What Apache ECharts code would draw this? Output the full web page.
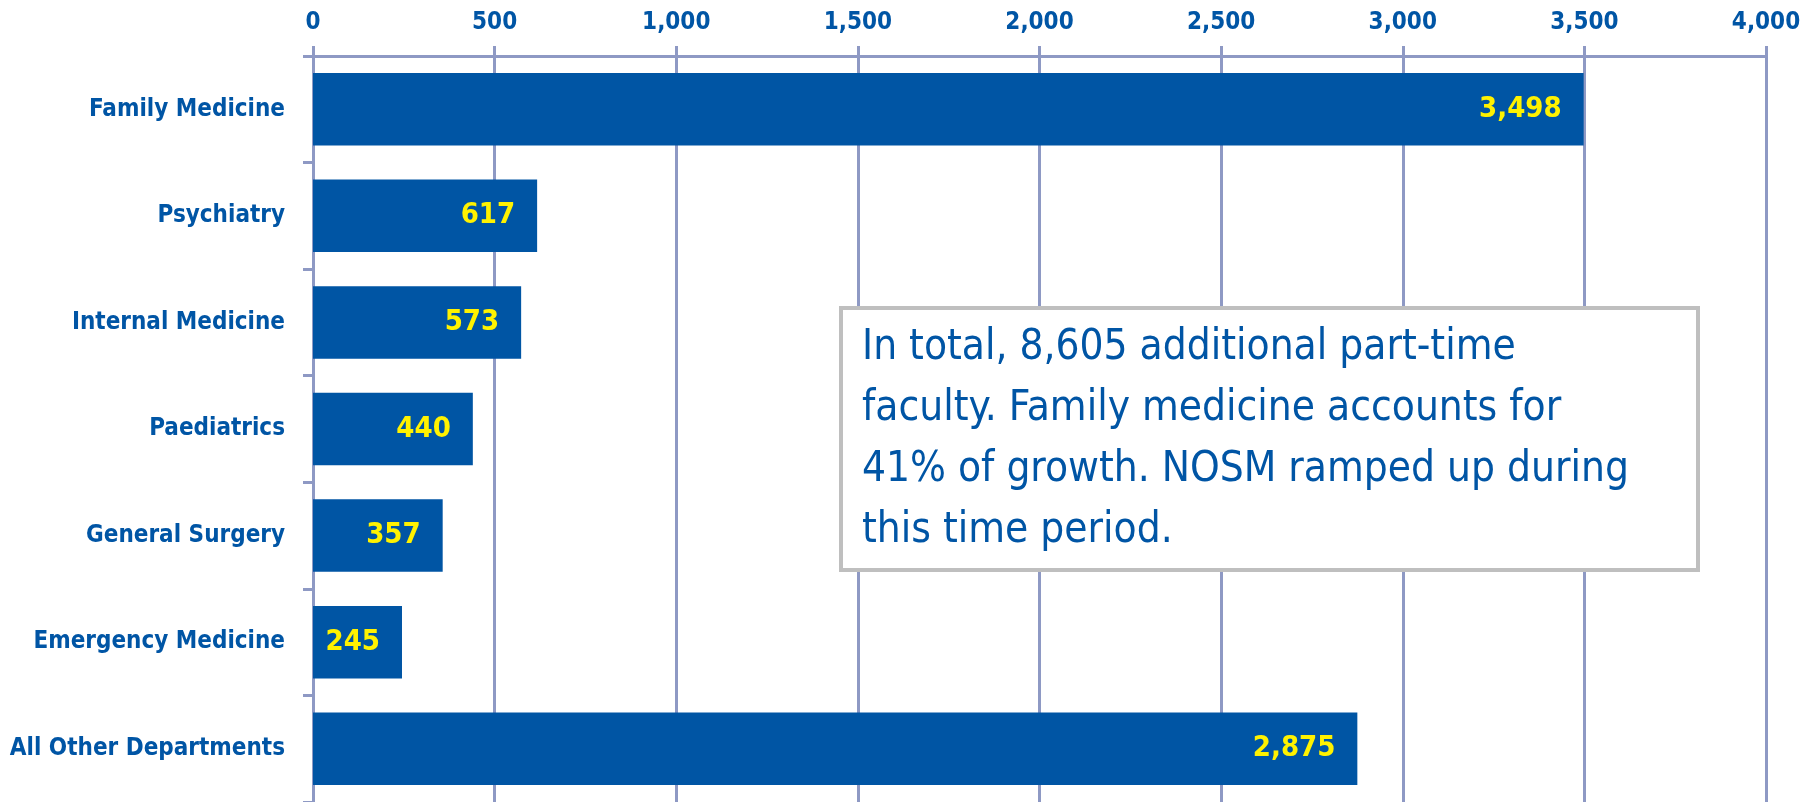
<!DOCTYPE html>
<html>
<head>
<meta charset="utf-8">
<title>Part-time faculty growth by department</title>
<script src="https://cdn.jsdelivr.net/npm/echarts@6/dist/echarts.min.js"></script>
<style>
  html, body { margin: 0; padding: 0; background: #ffffff; }
  #chart { width: 1812px; height: 802px; }
</style>
</head>
<body>
<div id="chart"></div>
<script>
// departments, top to bottom
var departments = ['Family Medicine', 'Psychiatry', 'Internal Medicine', 'Paediatrics',
  'General Surgery', 'Emergency Medicine', 'All Other Departments'];
// additional part-time faculty
var additionalFaculty = [3498, 617, 573, 440, 357, 245, 2875];
var noteLines = [
  'In total, 8,605 additional part-time',
  'faculty. Family medicine accounts for',
  '41% of growth. NOSM ramped up during',
  'this time period.'
];

var FONT = "'Liberation Sans Narrow', 'DejaVu Sans Condensed', sans-serif";
var BLUE = '#0055a5';
var GRID = '#8e99c4';

var chart = echarts.init(document.getElementById('chart'));

function comma(v) {
  return String(v).replace(/\B(?=(\d{3})+(?!\d))/g, ',');
}

var option = {
  backgroundColor: '#ffffff',
  animation: false,
  grid: { left: 313, right: 46, top: 56, bottom: 0 },
  xAxis: {
    type: 'value',
    position: 'top',
    min: 0,
    max: 4000,
    interval: 500,
    axisLine: { show: true, lineStyle: { color: GRID, width: 3 } },
    axisTick: { show: true, length: 10, lineStyle: { color: GRID, width: 3 } },
    axisLabel: {
      color: BLUE, fontFamily: FONT, fontWeight: 'bold', fontSize: 24, margin: 21,
      formatter: function (v) { return comma(v); }
    },
    splitLine: { show: true, lineStyle: { color: GRID, width: 3 } }
  },
  yAxis: {
    type: 'category',
    inverse: true,
    data: departments,
    axisLine: { show: true, lineStyle: { color: GRID, width: 3 } },
    axisTick: { show: true, length: 10, lineStyle: { color: GRID, width: 3 } },
    axisLabel: {
      color: BLUE, fontFamily: FONT, fontWeight: 'bold', fontSize: 24, margin: 28
    }
  },
  series: [{
    type: 'bar',
    data: additionalFaculty,
    barCategoryGap: '32%',
    itemStyle: { color: '#0055a4' },
    label: {
      show: true,
      position: 'insideRight',
      distance: 22,
      color: '#fff200',
      fontFamily: FONT,
      fontWeight: 'bold',
      fontSize: 29,
      formatter: function (p) { return comma(p.value); }
    }
  }],
  graphic: [{
    type: 'rect',
    z: 100,
    shape: { x: 841, y: 308, width: 857, height: 262 },
    style: { fill: '#ffffff', stroke: '#bfbfbf', lineWidth: 4 }
  }, {
    type: 'text',
    z: 101,
    x: 862,
    y: 318,
    style: {
      text: noteLines.join('\n'),
      fill: BLUE,
      fontFamily: FONT,
      fontSize: 42,
      lineHeight: 61
    }
  }]
};

chart.setOption(option);
</script>
</body>
</html>
